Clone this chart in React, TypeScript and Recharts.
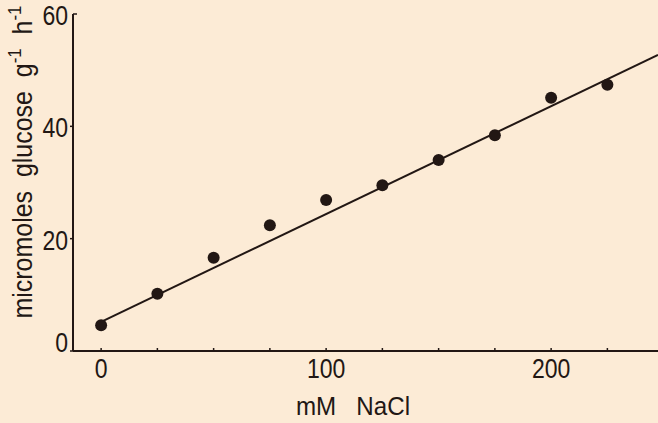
import { ScatterChart, Scatter, XAxis, YAxis } from 'recharts'

const naclMM = [0, 25, 50, 75, 100, 125, 150, 175, 200, 225]
const glucoseRate = [4.6, 10.2, 16.6, 22.4, 26.9, 29.5, 34.0, 38.4, 45.1, 47.4]
const fitNaCl = [0, 247.5]
const fitGlucose = [5.2, 52.7]
const xTicks = [0, 25, 50, 75, 100, 125, 150, 175, 200, 225]
const xLabelled = [0, 100, 200]
const yTicks = [0, 20, 40, 60]

const ink = '#221714'
const paper = '#fcebd6'
const font = '"Liberation Sans Narrow", "Liberation Sans", sans-serif'

const points = naclMM.map((x, i) => ({ x, y: glucoseRate[i] }))
const fit = fitNaCl.map((x, i) => ({ x, y: fitGlucose[i] }))

// the lettering is a condensed face, so squeeze the glyphs to the measured widths
const digitWidth = 12.8

function XTick({ x, y, payload }: any) {
  const s = String(payload.value)
  return (
    <g>
      <line x1={x} x2={x} y1={y} y2={y - 3} stroke={ink} strokeWidth={1.5} />
      {xLabelled.includes(payload.value) && (
        <text x={x} y={y + 27} textAnchor="middle" fontSize={28} fill={ink} fontFamily={font}
          textLength={digitWidth * s.length} lengthAdjust="spacingAndGlyphs">
          {s}
        </text>
      )}
    </g>
  )
}

function YTick({ x, y, payload }: any) {
  const s = String(payload.value)
  const top = payload.value === 60
  return (
    <g>
      <line x1={x} x2={top ? x + 4 : x - 3} y1={y} y2={y} stroke={ink} strokeWidth={1.5} />
      <text x={x - 5} y={y + (payload.value === 0 ? 1 : 11)} textAnchor="end" fontSize={28} fill={ink} fontFamily={font}
        textLength={digitWidth * s.length} lengthAdjust="spacingAndGlyphs">
        {s}
      </text>
    </g>
  )
}

export default function App() {
  return (
    <div style={{ position: 'absolute', left: 0, top: 0, width: 658, height: 423, background: paper }}>
      <ScatterChart width={658} height={423} margin={{ top: 14, right: 0, bottom: 0, left: 0 }}>
        <XAxis
          type="number"
          dataKey="x"
          domain={[-12.5, 247.5]}
          allowDataOverflow
          ticks={xTicks}
          interval={0}
          tick={<XTick />}
          tickLine={false}
          tickSize={0}
          tickMargin={0}
          axisLine={{ stroke: ink, strokeWidth: 2 }}
          height={72}
          label={{
            content: () => (
              <text x={353} y={415} textAnchor="middle" fontSize={25} fill={ink} fontFamily={font}
                textLength={114} lengthAdjust="spacingAndGlyphs" style={{ whiteSpace: 'pre' }}>
                mM   NaCl
              </text>
            ),
          }}
        />
        <YAxis
          type="number"
          dataKey="y"
          domain={[0, 60]}
          ticks={yTicks}
          interval={0}
          tick={<YTick />}
          tickLine={false}
          tickSize={0}
          tickMargin={0}
          axisLine={{ stroke: ink, strokeWidth: 2 }}
          width={73}
          label={{
            content: () => (
              <text transform="translate(32,162) rotate(-90)" textAnchor="middle" fontSize={28} fill={ink} fontFamily={font}
                textLength={313} lengthAdjust="spacingAndGlyphs" style={{ whiteSpace: 'pre' }}>
                micromoles  glucose  g<tspan dy={-11} fontSize={19}>-1</tspan><tspan dy={11}>  h</tspan><tspan dy={-11} fontSize={19}>-1</tspan>
              </text>
            ),
          }}
        />
        <Scatter data={fit} line={{ stroke: ink, strokeWidth: 2 }} shape={() => <g />} isAnimationActive={false} />
        <Scatter
          data={points}
          shape={(p: any) => <circle cx={p.cx} cy={p.cy} r={6} fill={ink} />}
          isAnimationActive={false}
        />
      </ScatterChart>
    </div>
  )
}
